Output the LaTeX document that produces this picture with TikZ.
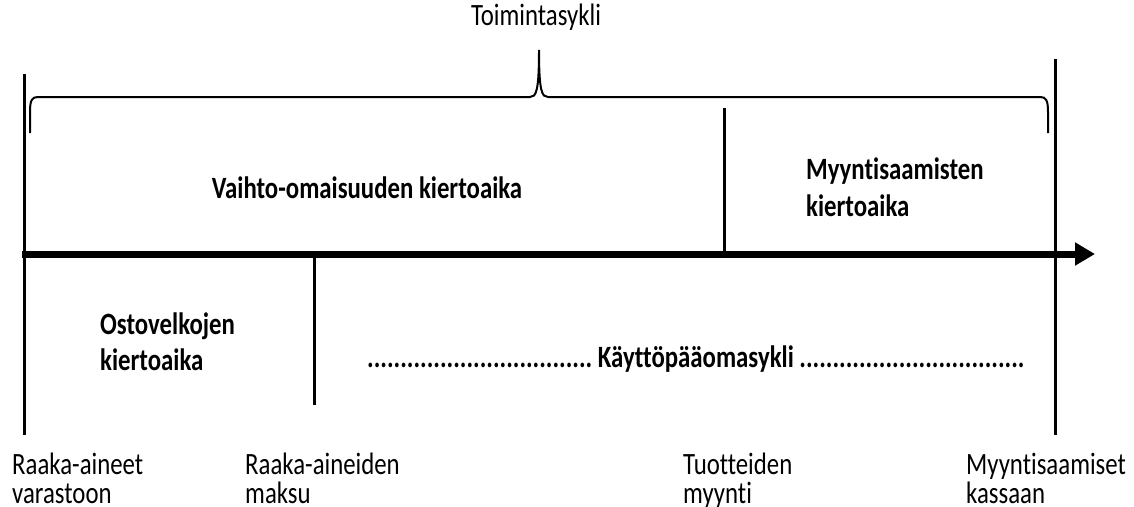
\documentclass[tikz,border=0pt]{standalone}
\usepackage{fontspec}
\setmainfont{Carlito}[FakeStretch=0.8, Ligatures=NoCommon]
\usetikzlibrary{arrows.meta}
\newcommand\twoln[3]{\vtop{\baselineskip=#3\lineskiplimit=-100pt\lineskip=0pt\hbox{#1}\hbox{#2}}}
\begin{document}
\begin{tikzpicture}[x=1pt,y=-1pt,
  txt/.style={inner sep=0pt, font=\fontsize{31}{36}\selectfont},
  btxt/.style={inner sep=0pt, font=\fontsize{31}{36}\selectfont\bfseries},
  vline/.style={line width=3pt},
  axisline/.style={line width=7pt, -{Triangle[length=20pt,width=22pt]}},
  bracestyle/.style={line width=2pt}]
\useasboundingbox (0,0) rectangle (1134,506);
% coordinates
\coordinate (L1) at (24,74);  \coordinate (L2) at (24,435);
\coordinate (R1) at (1055,59); \coordinate (R2) at (1055,435);
\coordinate (M1) at (724,108); \coordinate (M2) at (724,254);
\coordinate (P1) at (314,254); \coordinate (P2) at (314,405);
\coordinate (A0) at (22,254);  \coordinate (A1) at (1095,254);
% lines
\draw[vline] (L1) -- (L2);
\draw[vline] (R1) -- (R2);
\draw[vline] (M1) -- (M2);
\draw[vline] (P1) -- (P2);
\draw[axisline] (A0) -- (A1);
% brace
\coordinate (BL) at (30,133); \coordinate (BR) at (1048,133); \coordinate (BT) at (539,50);
\draw[bracestyle] (BL) -- (30,112) .. controls (30,100) and (32,97) .. (38,97) -- (530,97)
  .. controls (536,97) and (539,92) .. (BT)
  .. controls (539,92) and (542,97) .. (548,97) -- (1040,97)
  .. controls (1046,97) and (1048,100) .. (1048,112) -- (BR);
% texts
\node[txt, anchor=base] (title) at (536,25) {Toimintasykli};
\node[btxt, anchor=base] (vaihto) at (367,198) {Vaihto-omaisuuden kiertoaika};
\node[btxt, anchor=base west] (myy) at (806,179) {\twoln{Myyntisaamisten}{kiertoaika}{37pt}};
\node[btxt, anchor=base west] (ost) at (100,334) {\twoln{Ostovelkojen}{kiertoaika}{36pt}};
\node[btxt, anchor=base west] (kpo) at (367,367) {..................................\ Käyttöpääomasykli\ ..................................};
\node[txt, anchor=base west] (ra) at (12,474) {\twoln{Raaka-aineet}{varastoon}{29pt}};
\node[txt, anchor=base west] (rm) at (245,474) {\twoln{Raaka-aineiden}{maksu}{29pt}};
\node[txt, anchor=base west] (tm) at (683,474) {\twoln{Tuotteiden}{myynti}{29pt}};
\node[txt, anchor=base west] (mk) at (966,474) {\twoln{Myyntisaamiset}{kassaan}{29pt}};
\end{tikzpicture}
\end{document}
